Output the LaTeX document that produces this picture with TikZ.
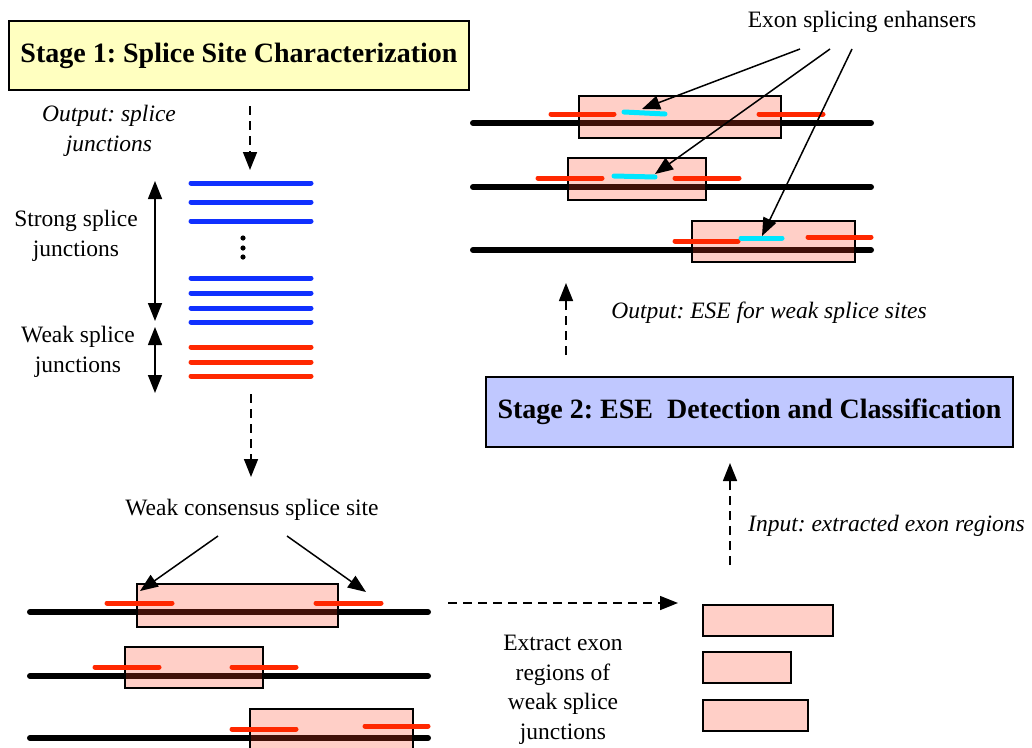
\documentclass[tikz,border=0pt]{standalone}
\usepackage{fontspec}
\setmainfont{Liberation Serif}
\usetikzlibrary{arrows.meta,positioning}
\frenchspacing
\definecolor{stageyellow}{RGB}{255,255,192}
\definecolor{stageblue}{RGB}{192,200,255}
\definecolor{exonfill}{RGB}{255,64,32}
\definecolor{siteRed}{RGB}{255,40,0}
\definecolor{strongBlue}{RGB}{16,48,255}
\definecolor{eseCyan}{RGB}{0,230,255}
\tikzset{
  stagebox/.style={draw, line width=1.5pt, inner sep=0pt, font=\fontsize{28}{32}\selectfont\bfseries},
  txt/.style={align=center, inner sep=0pt, font=\fontsize{23.5}{29.5}\selectfont},
  itxt/.style={align=center, inner sep=0pt, font=\fontsize{23.5}{29.5}\selectfont\itshape},
  dnaline/.style={line width=6pt, line cap=round},
  exon/.style={draw, line width=1.4pt, fill=exonfill, fill opacity=0.25},
  siteseg/.style={siteRed, line width=5pt, line cap=round},
  eseseg/.style={eseCyan, line width=5pt, line cap=round},
  junc/.style={line width=5pt, line cap=round},
  flow/.style={line width=1.5pt, dash pattern=on 9pt off 6pt, -{Triangle[length=18pt,width=14pt]}},
  pointer/.style={line width=1.5pt, -{Triangle[length=18pt,width=14pt]}},
  span/.style={line width=1.5pt, {Triangle[length=18pt,width=14pt]}-{Triangle[length=18pt,width=14pt]}}
}
\begin{document}
\begin{tikzpicture}[x=1pt, y=-1pt]
  \useasboundingbox (0,0) rectangle (1032,747);
  % Stage boxes
  \node[stagebox, fill=stageyellow, minimum width=460pt, minimum height=69pt] (stageone) at (239,55.5)
       {Stage 1: Splice Site Characterization};
  \node[stagebox, fill=stageblue, minimum width=527pt, minimum height=70pt] (stagetwo) at (749.5,412)
       {Stage 2: ESE\ \ Detection and Classification};
  % Labels
  \node[itxt] (outsplice) at (109,131) {Output: splice\\junctions};
  \node[txt] (strongtxt) at (76,236) {Strong splice\\junctions};
  \node[txt] (weaktxt) at (78,352) {Weak splice\\junctions};
  \node[txt] (consensus) at (252,510) {Weak consensus splice site};
  \node[txt] (enhancers) at (862,22) {Exon splicing enhansers};
  \node[itxt] (outese) at (769,313) {Output: ESE for weak splice sites};
  \node[itxt, anchor=west] (inexon) at (748,526) {Input: extracted exon regions};
  \node[txt] (extracttxt) at (563,690) {Extract exon\\regions of\\weak splice\\junctions};

  % Splice junctions
  \foreach \y in {183,202,221,278,293,308,322}
    \draw[junc, strongBlue] (191,\y) -- (311,\y);
  \foreach \y in {347,362,376}
    \draw[junc, siteRed] (191,\y) -- (311,\y);
  \foreach \y in {238,248,257}
    \fill (243,\y) circle (2.6pt);

  % Dashed flow arrows
  \coordinate (f1a) at (250,106);  \coordinate (f1b) at (250,170);
  \coordinate (f2a) at (251,394);  \coordinate (f2b) at (251,477);
  \coordinate (f3a) at (448,603);  \coordinate (f3b) at (678,603);
  \coordinate (f4a) at (730,565);  \coordinate (f4b) at (730,463);
  \coordinate (f5a) at (566,355);  \coordinate (f5b) at (566,283);
  \draw[flow] (f1a) -- (f1b);
  \draw[flow] (f2a) -- (f2b);
  \draw[flow] (f3a) -- (f3b);
  \draw[flow] (f4a) -- (f4b);
  \draw[flow] (f5a) -- (f5b);

  % Ranges
  \coordinate (sa) at (155,181); \coordinate (sb) at (155,321);
  \coordinate (wa) at (155,327); \coordinate (wb) at (155,393);
  \draw[span] (sa) -- (sb);
  \draw[span] (wa) -- (wb);

  % Weak junctions with exons
  \foreach \y in {612,676,738}
    \draw[dnaline] (30,\y) -- (428,\y);
  \draw[exon] (137,584) rectangle (338,627);
  \draw[exon] (125,647) rectangle (263,688);
  \draw[exon] (250,709) rectangle (413,760);
  \draw[siteseg] (107,603) -- (172,603);
  \draw[siteseg] (316,603) -- (381,603);
  \draw[siteseg] (95,667) -- (159,667);
  \draw[siteseg] (232,667) -- (296,667);
  \draw[siteseg] (232,729) -- (296,729);
  \draw[siteseg] (365,726) -- (428,726);
  \coordinate (cl) at (218,536); \coordinate (cr) at (287,536);
  \coordinate (tl) at (140,591); \coordinate (tr) at (366,592);
  \draw[pointer] (cl) -- (tl);
  \draw[pointer] (cr) -- (tr);

  % Extracted exon regions
  \draw[exon] (703,605) rectangle (833,636);
  \draw[exon] (703,652) rectangle (791,683);
  \draw[exon] (703,700) rectangle (808,731);

  % Exons with ESE
  \foreach \y in {123,187,250}
    \draw[dnaline] (473,\y) -- (871,\y);
  \draw[exon] (579,96) rectangle (781,138);
  \draw[exon] (568,158) rectangle (706,200);
  \draw[exon] (692,221) rectangle (855,262);
  \draw[siteseg] (551,114) -- (614,114);
  \draw[siteseg] (759,114) -- (823,114);
  \draw[siteseg] (538,178) -- (602,178);
  \draw[siteseg] (675,178) -- (739,178);
  \draw[siteseg] (675,241) -- (738,241);
  \draw[siteseg] (808,237) -- (871,237);
  \draw[eseseg] (624,112) -- (665,114);
  \draw[eseseg] (614,176) -- (655,177);
  \draw[eseseg] (741,238) -- (782,238);
  \coordinate (e1) at (800,49); \coordinate (e2) at (830,49); \coordinate (e3) at (852,49);
  \coordinate (c1) at (642,109); \coordinate (c2) at (655,174); \coordinate (c3) at (762,236);
  \draw[pointer] (e1) -- (c1);
  \draw[pointer] (e2) -- (c2);
  \draw[pointer] (e3) -- (c3);
\end{tikzpicture}
\end{document}
